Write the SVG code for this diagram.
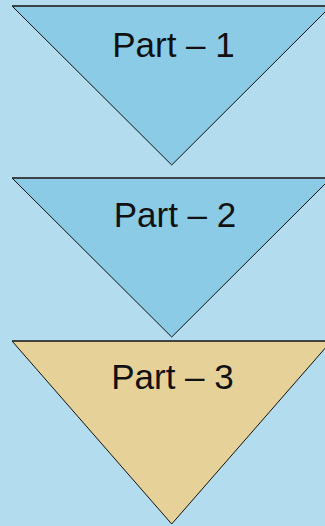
<svg xmlns="http://www.w3.org/2000/svg" width="325" height="526" viewBox="0 0 325 526">
<style>
.tri{stroke:#111;stroke-width:1;stroke-linejoin:miter}
.blue{fill:#8BCBE6}
.tan{fill:#E6D198}
.top{stroke:#333;stroke-width:1.6}
.lbl{font-family:"Liberation Sans",Arial,sans-serif;font-size:35px;fill:#111;text-anchor:middle}
</style>
<rect width="325" height="526" fill="#B3DDEE"/>
<g id="part1">
<polygon class="tri blue" points="12,6 331,6 171.7,165"/>
<line class="top" x1="12" y1="6" x2="331" y2="6"/>
<text class="lbl" x="173.5" y="57">Part – 1</text>
</g>
<g id="part2">
<polygon class="tri blue" points="12,178 331,178 171.7,337"/>
<line class="top" x1="12" y1="178" x2="331" y2="178"/>
<text class="lbl" x="175" y="227">Part – 2</text>
</g>
<g id="part3">
<polygon class="tri tan" points="12,341 331.4,341 171.7,524"/>
<line class="top" x1="12" y1="341" x2="331.4" y2="341"/>
<text class="lbl" x="172.5" y="389">Part – 3</text>
</g>
<g id="connectors"/>
</svg>
